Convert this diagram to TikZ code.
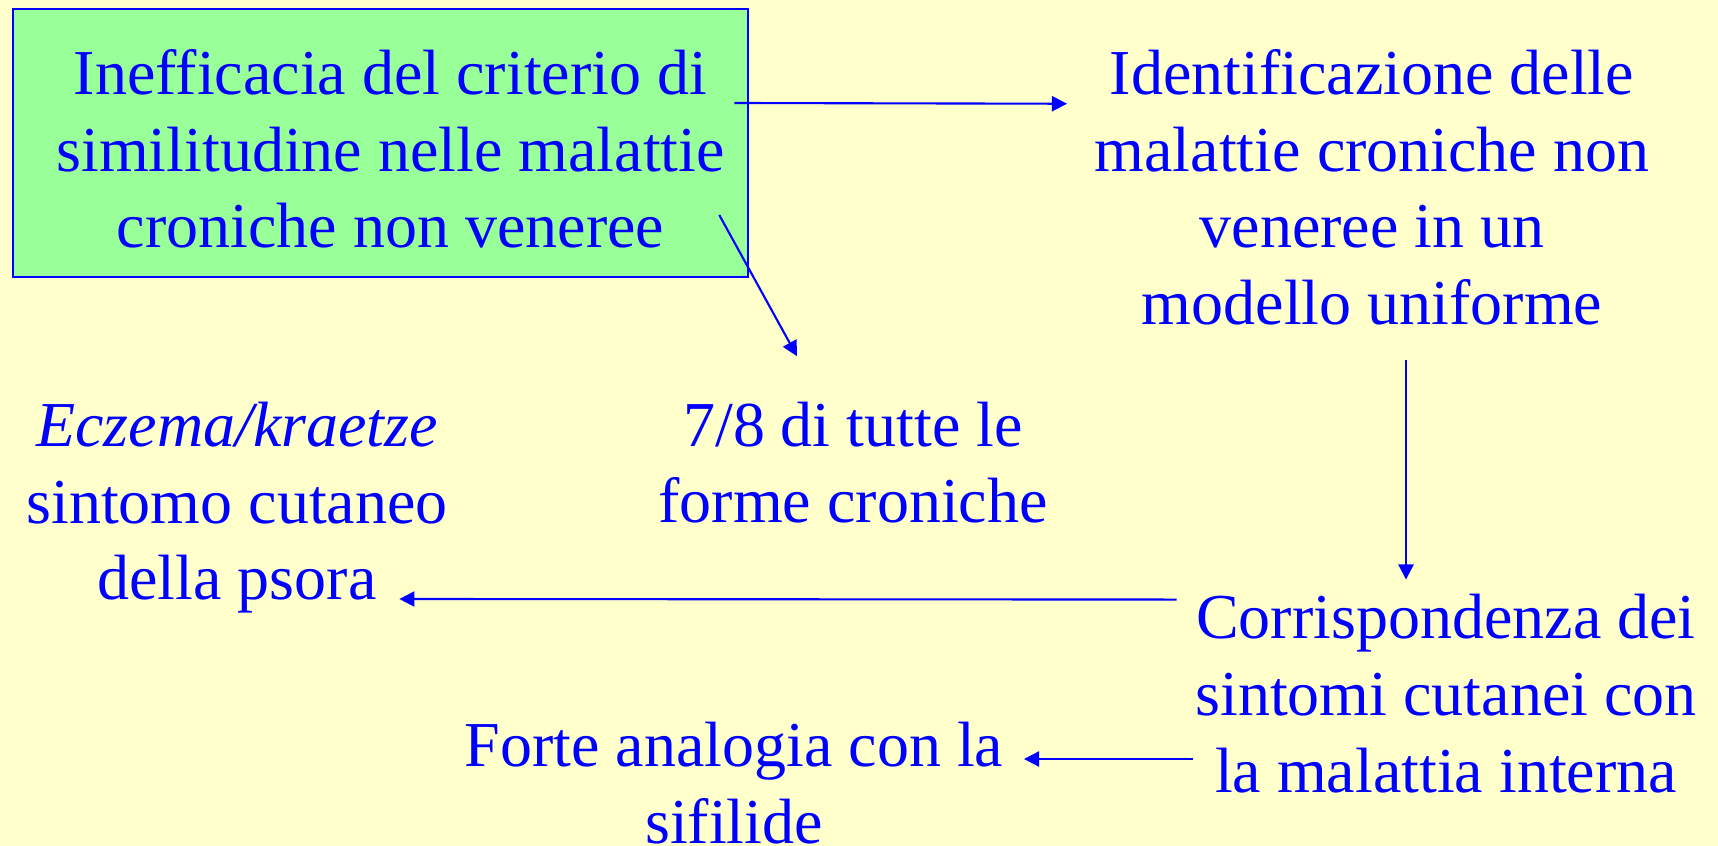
\documentclass[tikz,border=0pt]{standalone}
\usepackage{fontspec}
\setmainfont{Liberation Serif}
\usetikzlibrary{arrows.meta}
\definecolor{slidebg}{HTML}{FFFFCC}
\definecolor{boxgreen}{HTML}{99FF99}
\definecolor{inkblue}{HTML}{0000FF}

\begin{document}
\begin{tikzpicture}[
  x=0.01cm, y=-0.01cm,
  txt/.style={align=center, inner sep=0pt, text=inkblue, font=\fontsize{18.2pt}{21.8pt}\selectfont, anchor=base},
  critbox/.style={txt, draw=inkblue, line width=0.6pt, fill=boxgreen, minimum width=7.35cm, text height=2.39cm, text depth=0.29cm},
  arr/.style={-{Triangle[length=4.3pt,width=4.3pt]}, draw=inkblue, line width=0.6pt}
]
\useasboundingbox (0,0) rectangle (1718,846);
\fill[slidebg] (0,0) rectangle (1718,846);

% text nodes, placed by the baseline of their last line
\node[critbox] (crit) at (380.5,248) {\hspace*{0.2cm}Inefficacia del criterio di\\\hspace*{0.2cm}similitudine nelle malattie\\\hspace*{0.2cm}croniche non veneree};
\node[txt] (ident) at (1372,324.5) {Identificazione delle\\malattie croniche non\\veneree in un\\modello uniforme};
\node[txt] (eczema) at (237,600) {\textit{Eczema/kraetze}\\sintomo cutaneo\\della psora};
\node[txt] (frac) at (853,523) {7/8 di tutte le\\forme croniche};
\node[txt] (corr) at (1446,792) {Corrispondenza dei\\sintomi cutanei con\\la malattia interna};
\node[txt] (forte) at (734,843) {Forte analogia con la\\sifilide};

\draw[arr] ([shift={(-15,-145)}]crit.base east) -- ([shift={(-27,55)}]ident.north west);
\draw[arr] ([shift={(-30,-33)}]crit.base east) -- ([shift={(-56,-45)}]frac.north);
\draw[arr] ([shift={(34,34)}]ident.south) -- ([shift={(-40,-14)}]corr.north);
\draw[arr] ([shift={(-18,6)}]corr.north west) -- ([shift={(-49,-1)}]eczema.base east);
\draw[arr] ([shift={(-2,-33)}]corr.base west) -- ([shift={(20,-84)}]forte.base east);
\end{tikzpicture}
\end{document}
